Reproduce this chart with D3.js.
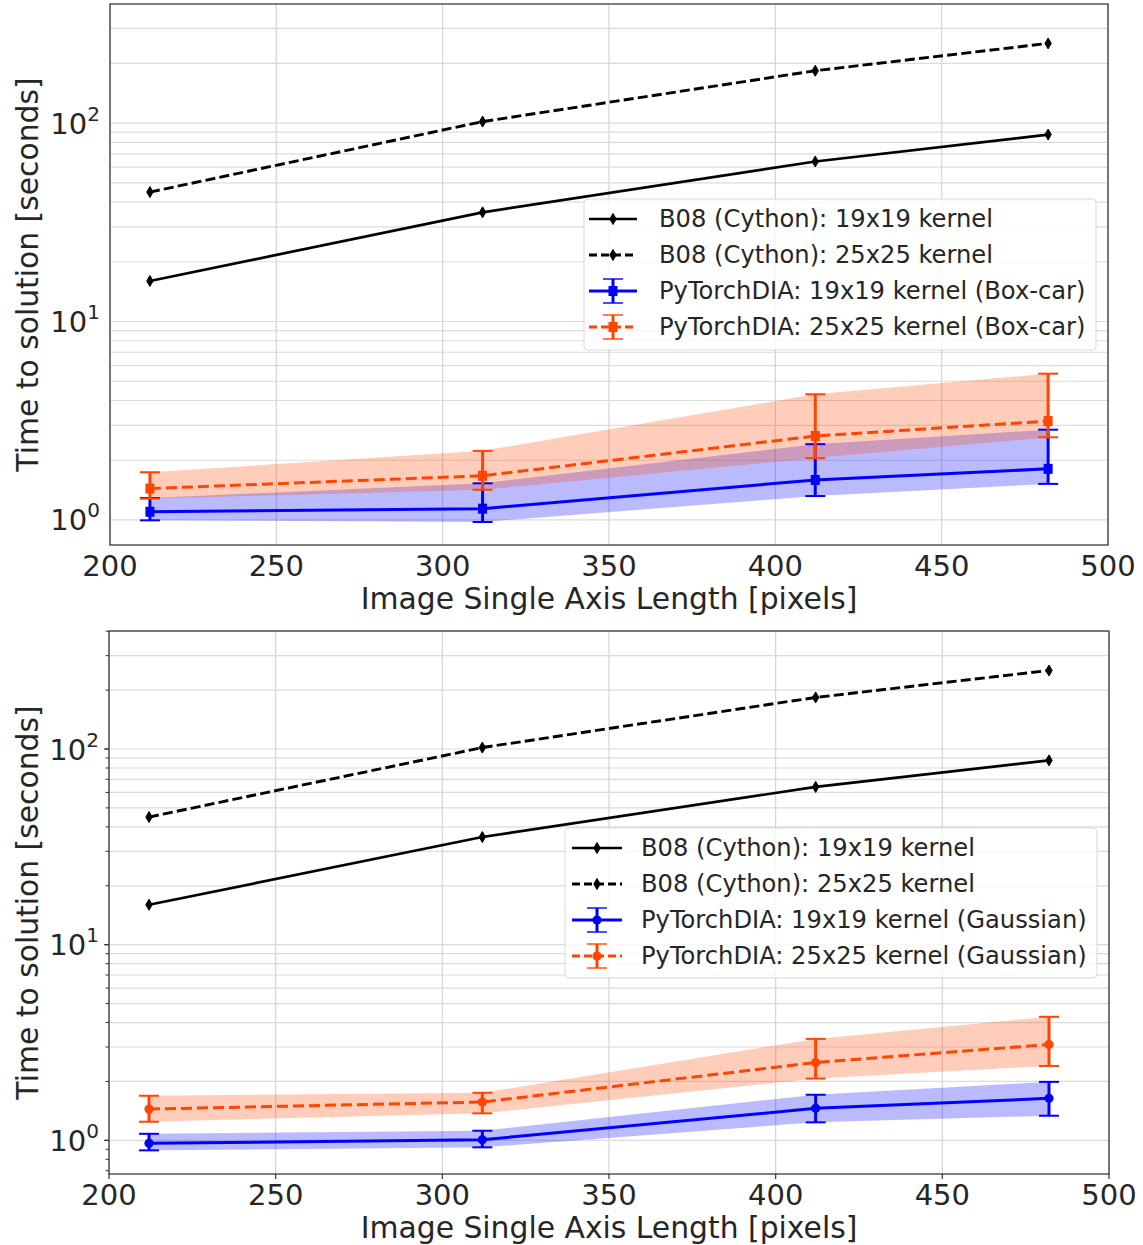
<!DOCTYPE html>
<html><head><meta charset="utf-8">
<script src="https://cdn.jsdelivr.net/npm/d3@7"></script>
<style>body{margin:0;background:#fff}svg{display:block}text{font-family:"DejaVu Sans",sans-serif;fill:#262626}</style>
</head><body>
<script>
// ---------- data ----------
const imageSize = [212, 312, 412, 482];
const xTicks = [200, 250, 300, 350, 400, 450, 500];
const yTickExps = [0, 1, 2];
const b08_19 = [16.0, 35.5, 64.0, 87.5];
const b08_25 = [44.9, 101.7, 183.5, 252];
// Box-car
const box19Mean = [1.10, 1.14, 1.59, 1.81];
const box19Lo   = [0.996, 0.977, 1.32, 1.52];
const box19Hi   = [1.29, 1.53, 2.41, 2.85];
const box25Mean = [1.44, 1.67, 2.65, 3.15];
const box25Lo   = [1.28, 1.42, 2.05, 2.61];
const box25Hi   = [1.74, 2.23, 4.30, 5.46];
// Gaussian
const gau19Mean = [0.966, 1.007, 1.457, 1.639];
const gau19Lo   = [0.889, 0.921, 1.236, 1.336];
const gau19Hi   = [1.08, 1.12, 1.71, 1.99];
const gau25Mean = [1.445, 1.57, 2.50, 3.09];
const gau25Lo   = [1.245, 1.374, 2.07, 2.40];
const gau25Hi   = [1.69, 1.75, 3.30, 4.28];
const legendLabelsBox = ["B08 (Cython): 19x19 kernel", "B08 (Cython): 25x25 kernel",
  "PyTorchDIA: 19x19 kernel (Box-car)", "PyTorchDIA: 25x25 kernel (Box-car)"];
const legendLabelsGau = ["B08 (Cython): 19x19 kernel", "B08 (Cython): 25x25 kernel",
  "PyTorchDIA: 19x19 kernel (Gaussian)", "PyTorchDIA: 25x25 kernel (Gaussian)"];
const xLabel = "Image Single Axis Length [pixels]";
const yLabel = "Time to solution [seconds]";

const BLUE = "#0000ff", ORANGE = "#ff4500";

const svg = d3.select("body").append("svg").attr("width", 1143).attr("height", 1245);

function diamond(g, x, y, color) {
  g.append("path").attr("d", `M${x},${y-5.5}L${x+3.2},${y}L${x},${y+5.5}L${x-3.2},${y}Z`).attr("fill", color).attr("stroke", color).attr("stroke-width", 1);
}
function marker(g, type, x, y, color) {
  if (type === "d") diamond(g, x, y, color);
  else if (type === "s") g.append("rect").attr("x", x-4.5).attr("y", y-5).attr("width", 9).attr("height", 10).attr("fill", color);
  else g.append("circle").attr("cx", x).attr("cy", y).attr("r", 4.6).attr("fill", color);
}

function panel(cfg) {
  const x = d3.scaleLinear().domain([200, 500]).range([cfg.left, cfg.right]);
  const y = d3.scaleLog().domain(cfg.ydom).range([cfg.bottom, cfg.top]);
  const g = svg.append("g");

  // grid
  const minor = [];
  for (let e = -1; e <= 3; e++) for (let k = 1; k <= 9; k++) {
    const v = k * Math.pow(10, e);
    if (v >= cfg.ydom[0] && v <= cfg.ydom[1]) minor.push(v);
  }
  g.selectAll(".hg").data(minor.filter(v => v >= 1)).join("line")
    .attr("x1", cfg.left).attr("x2", cfg.right)
    .attr("y1", d => y(d)).attr("y2", d => y(d))
    .attr("stroke", "#dcdcdc").attr("stroke-width", 1.2);
  g.selectAll(".vg").data(xTicks).join("line")
    .attr("x1", d => x(d)).attr("x2", d => x(d))
    .attr("y1", cfg.top).attr("y2", cfg.bottom)
    .attr("stroke", "#d4d4d4").attr("stroke-width", 1.2);

  // fills
  const area = (lo, hi) => d3.area().x((d, i) => x(imageSize[i])).y0((d, i) => y(lo[i])).y1((d, i) => y(hi[i]))(imageSize);
  g.append("path").attr("d", area(cfg.s19.lo, cfg.s19.hi)).attr("fill", BLUE).attr("fill-opacity", 0.27);
  g.append("path").attr("d", area(cfg.s25.lo, cfg.s25.hi)).attr("fill", ORANGE).attr("fill-opacity", 0.27);

  const line = d3.line().x((d, i) => x(imageSize[i])).y(d => y(d));
  // B08 lines
  g.append("path").attr("d", line(b08_19)).attr("fill", "none").attr("stroke", "#000").attr("stroke-width", 2.7);
  g.append("path").attr("d", line(b08_25)).attr("fill", "none").attr("stroke", "#000").attr("stroke-width", 2.9).attr("stroke-dasharray", "10,4.2");
  b08_19.forEach((v, i) => diamond(g, x(imageSize[i]), y(v), "#000"));
  b08_25.forEach((v, i) => diamond(g, x(imageSize[i]), y(v), "#000"));

  // PyTorchDIA series with error bars
  [[cfg.s19, BLUE, null], [cfg.s25, ORANGE, "11,5"]].forEach(([s, col, dash]) => {
    imageSize.forEach((xv, i) => {
      const px = x(xv);
      g.append("line").attr("x1", px).attr("x2", px).attr("y1", y(s.lo[i])).attr("y2", y(s.hi[i])).attr("stroke", col).attr("stroke-width", 3);
      [s.lo[i], s.hi[i]].forEach(v => g.append("line").attr("x1", px-10).attr("x2", px+10).attr("y1", y(v)).attr("y2", y(v)).attr("stroke", col).attr("stroke-width", 2));
    });
    g.append("path").attr("d", line(s.mean)).attr("fill", "none").attr("stroke", col).attr("stroke-width", 3).attr("stroke-dasharray", dash);
    s.mean.forEach((v, i) => marker(g, cfg.mk, x(imageSize[i]), y(v), col));
  });

  // spines
  g.append("rect").attr("x", cfg.left).attr("y", cfg.top).attr("width", cfg.right - cfg.left).attr("height", cfg.bottom - cfg.top)
    .attr("fill", "none").attr("stroke", "#333").attr("stroke-width", 1.25);

  // ticks (bottom panel only)
  if (cfg.ticks) {
    g.selectAll(".yt").data(minor).join("line").attr("x1", cfg.left - 3.5).attr("x2", cfg.left)
      .attr("y1", d => y(d)).attr("y2", d => y(d)).attr("stroke", "#333").attr("stroke-width", 1);
    g.selectAll(".yT").data(yTickExps).join("line").attr("x1", cfg.left - 5).attr("x2", cfg.left)
      .attr("y1", d => y(Math.pow(10, d))).attr("y2", d => y(Math.pow(10, d))).attr("stroke", "#333").attr("stroke-width", 1.2);
    g.selectAll(".xt").data(xTicks).join("line").attr("x1", d => x(d)).attr("x2", d => x(d))
      .attr("y1", cfg.bottom).attr("y2", cfg.bottom + 5).attr("stroke", "#333").attr("stroke-width", 1.2);
  }

  // tick labels
  g.selectAll(".xl").data(xTicks).join("text").attr("x", d => x(d)).attr("y", cfg.bottom + 21)
    .attr("text-anchor", "middle").attr("dominant-baseline", "central").attr("font-size", 29).text(d => d);
  yTickExps.forEach(e => {
    const t = g.append("text").attr("x", cfg.left - 10).attr("y", y(Math.pow(10, e)) + 10.5)
      .attr("text-anchor", "end").attr("font-size", 29);
    t.append("tspan").text("10");
    t.append("tspan").attr("font-size", 20).attr("dy", -13).text(e);
  });
  // axis labels
  g.append("text").attr("x", (cfg.left + cfg.right) / 2).attr("y", cfg.bottom + 53)
    .attr("text-anchor", "middle").attr("dominant-baseline", "central").attr("font-size", 29.8).text(xLabel);
  g.append("text").attr("transform", `translate(27,${(cfg.top + cfg.bottom) / 2}) rotate(-90)`)
    .attr("text-anchor", "middle").attr("dominant-baseline", "central").attr("font-size", 29.8).text(yLabel);

  // legend
  const L = cfg.legend;
  g.append("rect").attr("x", L.x).attr("y", L.y).attr("width", L.w).attr("height", L.h).attr("rx", 4)
    .attr("fill", "#fff").attr("fill-opacity", 0.8).attr("stroke", "#d0d0d0").attr("stroke-opacity", 0.8);
  const styles = [
    {col: "#000", dash: null, w: 2.7, mk: "d", eb: false},
    {col: "#000", dash: "8,4", w: 2.9, mk: "d", eb: false},
    {col: BLUE, dash: null, w: 3, mk: cfg.mk, eb: true},
    {col: ORANGE, dash: "8,4", w: 3, mk: cfg.mk, eb: true}
  ];
  L.labels.forEach((lab, i) => {
    const ry = L.y + 20 + i * 36;
    const st = styles[i];
    const cx = (L.hx0 + L.hx1) / 2;
    g.append("line").attr("x1", L.hx0).attr("x2", L.hx1).attr("y1", ry).attr("y2", ry)
      .attr("stroke", st.col).attr("stroke-width", st.w).attr("stroke-dasharray", st.dash);
    if (st.eb) {
      g.append("line").attr("x1", cx).attr("x2", cx).attr("y1", ry - 12).attr("y2", ry + 12).attr("stroke", st.col).attr("stroke-width", 3);
      [-12, 12].forEach(o => g.append("line").attr("x1", cx - 10).attr("x2", cx + 10).attr("y1", ry + o).attr("y2", ry + o).attr("stroke", st.col).attr("stroke-width", 2).attr("stroke-opacity", 0.7));
    }
    marker(g, st.mk, cx, ry, st.col);
    g.append("text").attr("x", L.tx).attr("y", ry).attr("dominant-baseline", "central").attr("font-size", 24.2).text(lab);
  });
}

panel({left: 110, right: 1108, top: 4, bottom: 545, ydom: [0.748, 398], mk: "s", ticks: false,
  s19: {mean: box19Mean, lo: box19Lo, hi: box19Hi}, s25: {mean: box25Mean, lo: box25Lo, hi: box25Hi},
  legend: {x: 584, y: 199, w: 512, h: 151, hx0: 589, hx1: 637, tx: 659, labels: legendLabelsBox}});
panel({left: 109, right: 1109, top: 631, bottom: 1174, ydom: [0.673, 401], mk: "o", ticks: true,
  s19: {mean: gau19Mean, lo: gau19Lo, hi: gau19Hi}, s25: {mean: gau25Mean, lo: gau25Lo, hi: gau25Hi},
  legend: {x: 565, y: 828, w: 532, h: 150, hx0: 572, hx1: 622, tx: 641, labels: legendLabelsGau}});
</script>
</body></html>
